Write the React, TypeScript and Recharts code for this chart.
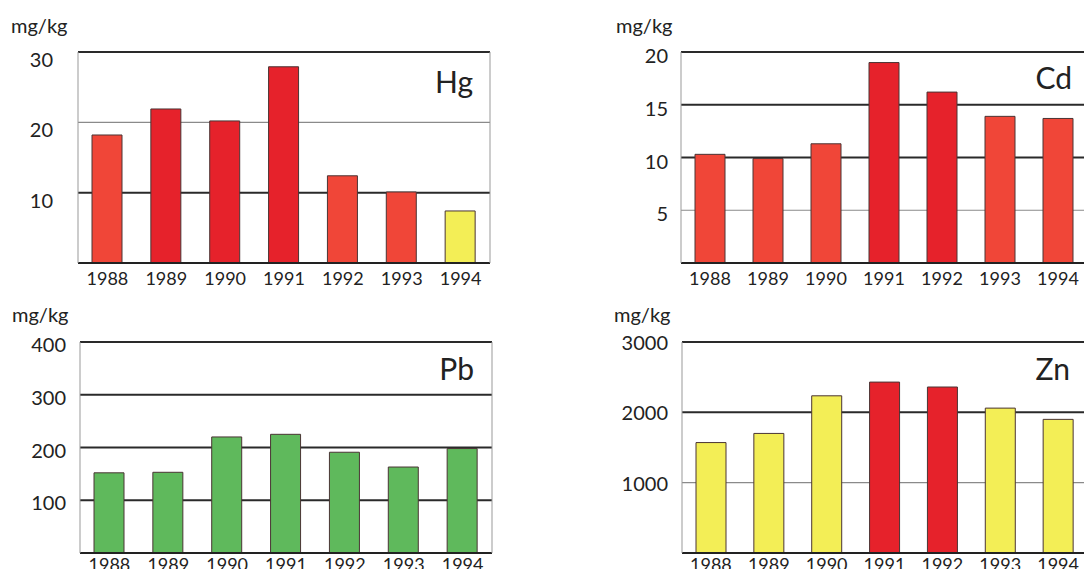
import { Bar, BarChart, Cell, ReferenceLine, XAxis, YAxis } from 'recharts'

const years = ['1988', '1989', '1990', '1991', '1992', '1993', '1994']

// mg/kg
const hgValues = [18.2, 21.9, 20.2, 27.9, 12.4, 10.1, 7.4]
const cdValues = [10.3, 9.9, 11.3, 19.0, 16.2, 13.9, 13.7]
const pbValues = [152, 153, 220, 225, 191, 163, 198]
const znValues = [1570, 1700, 2235, 2430, 2360, 2060, 1900]

// load class of each bar: 1 low, 2 elevated, 3 high, 0 lead (single class)
const hgClass = [2, 3, 3, 3, 2, 2, 1]
const cdClass = [2, 2, 2, 3, 3, 2, 2]
const pbClass = [0, 0, 0, 0, 0, 0, 0]
const znClass = [1, 1, 1, 3, 3, 1, 1]

const hgTicks = [10, 20, 30]
const cdTicks = [5, 10, 15, 20]
const pbTicks = [100, 200, 300, 400]
const znTicks = [1000, 2000, 3000]

const classColor: Record<number, string> = {
  0: '#5fb95c',
  1: '#f3ee56',
  2: '#f04638',
  3: '#e6222b',
}

const FONT = 'Lato, "DejaVu Sans", sans-serif'
const INK = '#222'

type PanelProps = {
  name: string
  values: number[]
  classes: number[]
  ticks: number[]
  thin: number[]
  left: number
  top: number
  width: number
  axisWidth: number
  rightMargin: number
  padRight: number
  labelGap: number
  labelDy: number
  xGap: number
}

function Panel(p: PanelProps) {
  const data = years.map((year, i) => ({ year, v: p.values[i], c: p.classes[i] }))
  const max = p.ticks[p.ticks.length - 1]

  const yTick = (props: any) => (
    <text
      x={props.x}
      y={props.y + p.labelDy}
      textAnchor="end"
      dominantBaseline="central"
      fontSize={20}
      fill={INK}
      fontFamily={FONT}
    >
      {props.payload.value}
    </text>
  )

  return (
    <div style={{ position: 'absolute', left: p.left, top: p.top }}>
      <BarChart
        width={p.width}
        height={290}
        data={data}
        margin={{ top: 52, right: p.rightMargin, bottom: 0, left: 0 }}
      >
        <XAxis
          dataKey="year"
          height={27}
          tickLine={false}
          tickSize={0}
          tickMargin={p.xGap}
          axisLine={{ stroke: INK, strokeWidth: 2 }}
          tick={{ fontSize: 18, fill: INK, fontFamily: FONT }}
          padding={{ left: 0, right: p.padRight }}
          interval={0}
        />
        <YAxis
          yAxisId="l"
          width={p.axisWidth}
          domain={[0, max]}
          ticks={p.ticks}
          tickLine={false}
          tickSize={0}
          tickMargin={p.labelGap}
          axisLine={{ stroke: '#999', strokeWidth: 1 }}
          tick={yTick}
          interval={0}
        />
        <YAxis
          yAxisId="r"
          orientation="right"
          width={1}
          domain={[0, max]}
          tick={false}
          tickLine={false}
          axisLine={{ stroke: '#999', strokeWidth: 1 }}
        />
        {p.ticks.map((t) => (
          <ReferenceLine
            key={t}
            yAxisId="l"
            y={t}
            stroke={p.thin.includes(t) ? '#8a8a8a' : '#2a2a2a'}
            strokeWidth={p.thin.includes(t) ? 1.2 : 2}
            zIndex={-50}
          />
        ))}
        <Bar
          yAxisId="l"
          dataKey="v"
          barSize={30}
          stroke="#4a3434"
          strokeWidth={1}
          isAnimationActive={false}
        >
          {data.map((d) => (
            <Cell key={d.year} fill={classColor[d.c]} />
          ))}
        </Bar>
      </BarChart>
    </div>
  )
}

export default function App() {
  const unitStyle = { fontSize: 20, fill: INK, fontFamily: FONT }
  const titleStyle = { fontSize: 30, fill: INK, fontFamily: FONT }
  return (
    <div
      style={{
        position: 'relative',
        width: 1092,
        height: 577,
        margin: -8,
        overflow: 'hidden',
        background: '#fff',
        fontFamily: FONT,
      }}
    >
      <Panel name="Hg" values={hgValues} classes={hgClass} ticks={hgTicks} thin={[20]}
        left={0} top={0} width={520} axisWidth={78} rightMargin={29} padRight={0} labelGap={25} labelDy={7} xGap={9} />
      <Panel name="Cd" values={cdValues} classes={cdClass} ticks={cdTicks} thin={[5]}
        left={560} top={0} width={540} axisWidth={121} rightMargin={3} padRight={9} labelGap={13} labelDy={3} xGap={9} />
      <Panel name="Pb" values={pbValues} classes={pbClass} ticks={pbTicks} thin={[]}
        left={0} top={290} width={520} axisWidth={80} rightMargin={27} padRight={0} labelGap={14} labelDy={2} xGap={5} />
      <Panel name="Zn" values={znValues} classes={znClass} ticks={znTicks} thin={[1000]}
        left={560} top={290} width={540} axisWidth={122} rightMargin={3} padRight={9} labelGap={14} labelDy={0} xGap={5} />
      <svg width={1092} height={577} style={{ position: 'absolute', left: 0, top: 0, pointerEvents: 'none' }}>
        <text x={11} y={33} {...unitStyle}>mg/kg</text>
        <text x={616} y={33} {...unitStyle}>mg/kg</text>
        <text x={12} y={322} {...unitStyle}>mg/kg</text>
        <text x={614} y={322} {...unitStyle}>mg/kg</text>
        <text x={473} y={93} textAnchor="end" {...titleStyle}>Hg</text>
        <text x={1072} y={89} textAnchor="end" {...titleStyle}>Cd</text>
        <text x={474} y={380} textAnchor="end" {...titleStyle}>Pb</text>
        <text x={1070} y={380} textAnchor="end" {...titleStyle}>Zn</text>
      </svg>
    </div>
  )
}
